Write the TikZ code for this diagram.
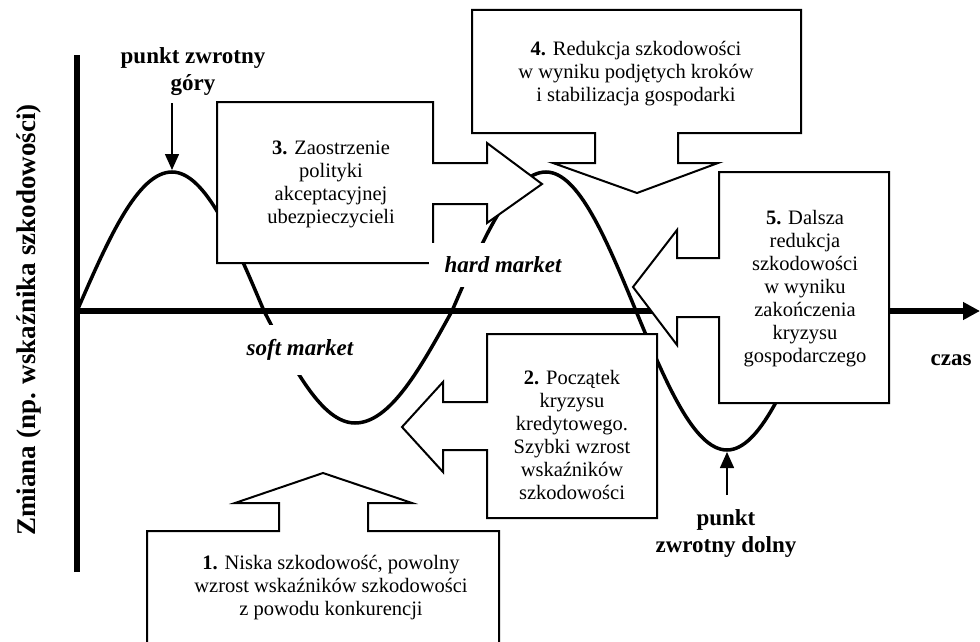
\documentclass[tikz,border=0pt]{standalone}
\usepackage{fontspec}
\setmainfont{Liberation Serif}
\usetikzlibrary{arrows.meta}
\begin{document}
\begin{tikzpicture}[x=1pt,y=-1pt,
  callout/.style={draw=black,line width=2pt,fill=white,line join=miter},
  boxtext/.style={align=center,font=\fontsize{20.5}{23}\selectfont,inner sep=0pt},
  boldlabel/.style={align=center,font=\fontsize{23}{27}\selectfont\bfseries,inner sep=0pt},
  marketlabel/.style={fill=white,inner xsep=16pt,inner ysep=14pt,font=\fontsize{23}{27}\selectfont\bfseries\itshape},
  axisline/.style={line width=5.5pt},
  curveline/.style={line width=3.5pt},
  pointer/.style={line width=1.5pt,-{Triangle[length=16pt,width=14pt]}}]
\useasboundingbox (0,0) rectangle (980,642);
\clip (0,0) rectangle (980,642);
% axes
\coordinate (O) at (77,311);
\coordinate (Ytop) at (77,55);
\coordinate (Ybot) at (77,572);
\coordinate (Xend) at (980,311);
\draw[axisline] (Ybot) -- (Ytop);
\draw[axisline,-{Triangle[length=17pt,width=17pt]}] (O) -- (Xend);
% curve
\draw[curveline] (O) sin (172,172) cos (264,311) sin (355,423) cos (452,311)
  sin (546,172) cos (636,311) sin (727,450) cos (817,311);
% callout 3
\draw[callout] (217,102) -- (433,102) -- (433,163) -- (487,163) -- (487,143) -- (542,184)
  -- (487,223) -- (487,204) -- (433,204) -- (433,263) -- (217,263) -- cycle;
\node[boxtext] (t3) at (331,184.5) {\textbf{3.} Zaostrzenie\\polityki\\akceptacyjnej\\ubezpieczycieli};
% callout 4
\draw[callout] (472,10) -- (801,10) -- (801,133) -- (678,133) -- (678,163) -- (718,163)
  -- (637,193) -- (553,163) -- (595,163) -- (595,133) -- (472,133) -- cycle;
\node[boxtext] (t4) at (636,73.5) {\textbf{4.} Redukcja szkodowości\\w wyniku podjętych kroków\\i stabilizacja gospodarki};
% callout 5
\draw[callout] (719,172) -- (889,172) -- (889,403) -- (719,403) -- (719,317) -- (677,317)
  -- (677,345) -- (633,287) -- (677,230) -- (677,258) -- (719,258) -- cycle;
\node[boxtext] (t5) at (805,288.5) {\textbf{5.} Dalsza\\redukcja\\szkodowości\\w wyniku\\zakończenia\\kryzysu\\gospodarczego};
% callout 2
\draw[callout] (487,334) -- (657,334) -- (657,518) -- (487,518) -- (487,450) -- (443,450)
  -- (443,472) -- (402,427) -- (443,382) -- (443,402) -- (487,402) -- cycle;
\node[boxtext] (t2) at (572,435) {\textbf{2.} Początek\\kryzysu\\kredytowego.\\Szybki wzrost\\wskaźników\\szkodowości};
% callout 1
\draw[callout] (147,531) -- (279,531) -- (279,503) -- (235,503) -- (323,473) -- (412,503)
  -- (368,503) -- (368,531) -- (499,531) -- (499,660) -- (147,660) -- cycle;
\node[boxtext] (t1) at (331,588) {\textbf{1.} Niska szkodowość, powolny\\wzrost wskaźników szkodowości\\z powodu konkurencji};
% market labels
\node[marketlabel] (hard) at (503,265) {hard market};
\node[marketlabel] (soft) at (300,350) {soft market};
% turning points
\node[boldlabel] (toplab) at (193,71.5) {punkt zwrotny\\góry};
\coordinate (topstart) at (172,103);
\coordinate (peak) at (172,170);
\draw[pointer] (topstart) -- (peak);
\node[boldlabel] (botlab) at (726,533.5) {punkt\\zwrotny dolny};
\coordinate (botstart) at (727,495);
\coordinate (trough) at (727,452);
\draw[pointer] (botstart) -- (trough);
% axis labels
\node[boldlabel] (czas) at (951,360) {czas};
\node[boldlabel,rotate=90,font=\fontsize{27}{30}\selectfont\bfseries] (ylab) at (29,320) {Zmiana (np. wskaźnika szkodowości)};
\end{tikzpicture}
\end{document}
